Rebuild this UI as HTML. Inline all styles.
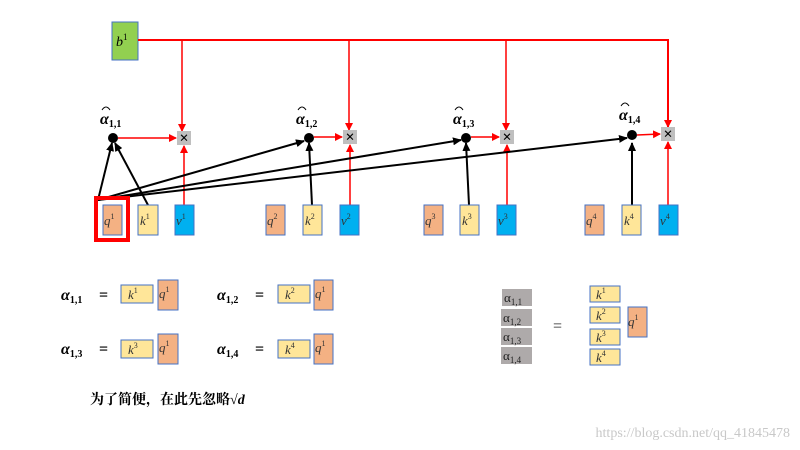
<!DOCTYPE html>
<html><head><meta charset="utf-8"><style>
html,body{margin:0;padding:0;background:#fff;width:800px;height:450px;overflow:hidden}
text{font-family:"Liberation Serif","Noto Serif CJK SC",serif}
.i{font-style:italic}
</style></head><body>
<svg width="800" height="450" viewBox="0 0 800 450" xmlns="http://www.w3.org/2000/svg">
<defs>
<marker id="ar" markerWidth="8" markerHeight="8" refX="7" refY="4" orient="auto" markerUnits="userSpaceOnUse"><path d="M0,0 L8,4 L0,8 z" fill="red"/></marker>
<marker id="ab" markerWidth="10" markerHeight="10" refX="8" refY="5" orient="auto" markerUnits="userSpaceOnUse"><path d="M0,1 L9,5 L0,9 z" fill="#000"/></marker>
</defs>
<!-- b1 -->
<rect x="112" y="22" width="26" height="38" fill="#92d050" stroke="#4472c4"/>
<text x="116" y="46" font-size="14" class="i">b<tspan font-size="9" dy="-6" font-style="normal">1</tspan></text>
<polyline points="138,40 668,40 668,127" fill="none" stroke="red" stroke-width="2" marker-end="url(#ar)"/>
<g stroke="red" stroke-width="1.5" fill="none">
<line x1="182" y1="40" x2="182" y2="131" marker-end="url(#ar)"/>
<line x1="349" y1="40" x2="349" y2="130" marker-end="url(#ar)"/>
<line x1="506" y1="40" x2="506" y2="130" marker-end="url(#ar)"/>
<!-- v to cross -->
<line x1="184" y1="205" x2="184" y2="146" marker-end="url(#ar)"/>
<line x1="350" y1="205" x2="350" y2="145" marker-end="url(#ar)"/>
<line x1="507" y1="205" x2="507" y2="145" marker-end="url(#ar)"/>
<line x1="668" y1="205" x2="668" y2="142" marker-end="url(#ar)"/>
<!-- dot to cross -->
<line x1="118" y1="138" x2="176" y2="138" marker-end="url(#ar)"/>
<line x1="314" y1="137" x2="342" y2="137" marker-end="url(#ar)"/>
<line x1="471" y1="137" x2="499" y2="137" marker-end="url(#ar)"/>
<line x1="637" y1="135" x2="660" y2="134" marker-end="url(#ar)"/>
</g>
<!-- black lines -->
<g stroke="#000" stroke-width="2" fill="none">
<line x1="98" y1="200" x2="112" y2="143" marker-end="url(#ab)"/>
<line x1="148" y1="205" x2="115" y2="143" marker-end="url(#ab)"/>
<line x1="98" y1="200" x2="304" y2="141" marker-end="url(#ab)"/>
<line x1="98" y1="200" x2="461" y2="140" marker-end="url(#ab)"/>
<line x1="98" y1="200" x2="627" y2="138" marker-end="url(#ab)"/>
<line x1="312" y1="205" x2="309" y2="143" marker-end="url(#ab)"/>
<line x1="469" y1="205" x2="466" y2="143" marker-end="url(#ab)"/>
<line x1="632" y1="205" x2="632" y2="143" marker-end="url(#ab)"/>
</g>
<g fill="#000">
<circle cx="113" cy="138" r="5"/><circle cx="309" cy="138" r="5"/><circle cx="466" cy="138" r="5"/><circle cx="632" cy="135" r="5"/>
</g>
<!-- crosses -->
<g>
<rect x="177" y="131" width="14" height="14" fill="#bfbfbf"/><text x="184" y="143" font-size="16" font-weight="bold" text-anchor="middle" font-family="Liberation Sans">×</text>
<rect x="343" y="130" width="14" height="14" fill="#bfbfbf"/><text x="350" y="142" font-size="16" font-weight="bold" text-anchor="middle" font-family="Liberation Sans">×</text>
<rect x="500" y="130" width="14" height="14" fill="#bfbfbf"/><text x="507" y="142" font-size="16" font-weight="bold" text-anchor="middle" font-family="Liberation Sans">×</text>
<rect x="661" y="127" width="14" height="14" fill="#bfbfbf"/><text x="668" y="139" font-size="16" font-weight="bold" text-anchor="middle" font-family="Liberation Sans">×</text>
</g>
<!-- alpha hats -->
<g font-weight="bold" class="i">
<text x="100" y="124" font-size="16" class="i">α<tspan font-size="10" dy="3" font-style="normal">1,1</tspan></text>
<text x="296" y="124" font-size="16" class="i">α<tspan font-size="10" dy="3" font-style="normal">1,2</tspan></text>
<text x="453" y="124" font-size="16" class="i">α<tspan font-size="10" dy="3" font-style="normal">1,3</tspan></text>
<text x="619" y="120" font-size="16" class="i">α<tspan font-size="10" dy="3" font-style="normal">1,4</tspan></text>
</g>
<g stroke="#000" fill="none" stroke-width="1">
<path d="M102,110 Q106,104 110,110"/><path d="M298,110 Q302,104 306,110"/><path d="M455,110 Q459,104 463,110"/><path d="M621,106 Q625,100 629,106"/>
</g>
<!-- bottom boxes -->
<rect x="96" y="198" width="32" height="42" fill="none" stroke="red" stroke-width="4"/>
<g stroke="#4472c4" stroke-width="1">
<rect x="103" y="205" width="19" height="30" fill="#f4b183"/>
<rect x="138" y="205" width="20" height="30" fill="#ffe699"/>
<rect x="175" y="205" width="19" height="30" fill="#00b0f0"/>
<rect x="266" y="205" width="19" height="30" fill="#f4b183"/>
<rect x="303" y="205" width="19" height="30" fill="#ffe699"/>
<rect x="340" y="205" width="19" height="30" fill="#00b0f0"/>
<rect x="424" y="205" width="19" height="30" fill="#f4b183"/>
<rect x="460" y="205" width="19" height="30" fill="#ffe699"/>
<rect x="497" y="205" width="19" height="30" fill="#00b0f0"/>
<rect x="585" y="205" width="19" height="30" fill="#f4b183"/>
<rect x="622" y="205" width="19" height="30" fill="#ffe699"/>
<rect x="659" y="205" width="19" height="30" fill="#00b0f0"/>
</g>
<g font-size="13" fill="#333">
<text x="104" y="225" class="i">q<tspan font-size="8" dy="-6" font-style="normal">1</tspan></text>
<text x="140" y="225" class="i">k<tspan font-size="8" dy="-6" font-style="normal">1</tspan></text>
<text x="176" y="225" class="i">v<tspan font-size="8" dy="-6" font-style="normal">1</tspan></text>
<text x="267" y="225" class="i">q<tspan font-size="8" dy="-6" font-style="normal">2</tspan></text>
<text x="305" y="225" class="i">k<tspan font-size="8" dy="-6" font-style="normal">2</tspan></text>
<text x="341" y="225" class="i">v<tspan font-size="8" dy="-6" font-style="normal">2</tspan></text>
<text x="425" y="225" class="i">q<tspan font-size="8" dy="-6" font-style="normal">3</tspan></text>
<text x="462" y="225" class="i">k<tspan font-size="8" dy="-6" font-style="normal">3</tspan></text>
<text x="498" y="225" class="i">v<tspan font-size="8" dy="-6" font-style="normal">3</tspan></text>
<text x="586" y="225" class="i">q<tspan font-size="8" dy="-6" font-style="normal">4</tspan></text>
<text x="624" y="225" class="i">k<tspan font-size="8" dy="-6" font-style="normal">4</tspan></text>
<text x="660" y="225" class="i">v<tspan font-size="8" dy="-6" font-style="normal">4</tspan></text>
</g>
<!-- formulas -->
<g font-size="16" font-weight="bold">
<text x="61" y="300" class="i">α<tspan font-size="10" dy="3" font-style="normal">1,1</tspan></text>
<text x="99" y="300">=</text>
<text x="217" y="300" class="i">α<tspan font-size="10" dy="3" font-style="normal">1,2</tspan></text>
<text x="255" y="300">=</text>
<text x="61" y="354" class="i">α<tspan font-size="10" dy="3" font-style="normal">1,3</tspan></text>
<text x="99" y="354">=</text>
<text x="217" y="354" class="i">α<tspan font-size="10" dy="3" font-style="normal">1,4</tspan></text>
<text x="255" y="354">=</text>
</g>
<g stroke="#4472c4">
<rect x="121" y="285" width="32" height="18" fill="#ffe699"/><rect x="158" y="280" width="20" height="30" fill="#f4b183"/>
<rect x="278" y="285" width="32" height="18" fill="#ffe699"/><rect x="314" y="280" width="19" height="30" fill="#f4b183"/>
<rect x="121" y="340" width="32" height="18" fill="#ffe699"/><rect x="158" y="334" width="20" height="30" fill="#f4b183"/>
<rect x="278" y="340" width="32" height="18" fill="#ffe699"/><rect x="314" y="334" width="19" height="30" fill="#f4b183"/>
</g>
<g font-size="13" fill="#333">
<text x="128" y="299" class="i">k<tspan font-size="8" dy="-6" font-style="normal">1</tspan></text>
<text x="159" y="298" class="i">q<tspan font-size="8" dy="-6" font-style="normal">1</tspan></text>
<text x="285" y="299" class="i">k<tspan font-size="8" dy="-6" font-style="normal">2</tspan></text>
<text x="315" y="298" class="i">q<tspan font-size="8" dy="-6" font-style="normal">1</tspan></text>
<text x="128" y="354" class="i">k<tspan font-size="8" dy="-6" font-style="normal">3</tspan></text>
<text x="159" y="352" class="i">q<tspan font-size="8" dy="-6" font-style="normal">1</tspan></text>
<text x="285" y="354" class="i">k<tspan font-size="8" dy="-6" font-style="normal">4</tspan></text>
<text x="315" y="352" class="i">q<tspan font-size="8" dy="-6" font-style="normal">1</tspan></text>
</g>
<!-- right matrix -->
<g fill="#aeaaaa">
<rect x="502" y="289" width="30" height="17"/><rect x="501" y="309" width="31" height="17"/><rect x="501" y="328" width="31" height="17"/><rect x="501" y="347" width="31" height="17"/>
</g>
<g font-size="13" fill="#222">
<text x="504" y="302">α<tspan font-size="9" dy="3">1,1</tspan></text>
<text x="503" y="322">α<tspan font-size="9" dy="3">1,2</tspan></text>
<text x="503" y="341">α<tspan font-size="9" dy="3">1,3</tspan></text>
<text x="503" y="360">α<tspan font-size="9" dy="3">1,4</tspan></text>
<text x="553" y="331" font-size="16">=</text>
</g>
<g stroke="#4472c4">
<rect x="590" y="286" width="30" height="16" fill="#ffe699"/>
<rect x="590" y="307" width="30" height="16" fill="#ffe699"/>
<rect x="590" y="329" width="30" height="16" fill="#ffe699"/>
<rect x="590" y="349" width="30" height="16" fill="#ffe699"/>
<rect x="628" y="307" width="19" height="30" fill="#f4b183"/>
</g>
<g font-size="13" fill="#333">
<text x="596" y="299" class="i">k<tspan font-size="8" dy="-6" font-style="normal">1</tspan></text>
<text x="596" y="320" class="i">k<tspan font-size="8" dy="-6" font-style="normal">2</tspan></text>
<text x="596" y="342" class="i">k<tspan font-size="8" dy="-6" font-style="normal">3</tspan></text>
<text x="596" y="362" class="i">k<tspan font-size="8" dy="-6" font-style="normal">4</tspan></text>
<text x="628" y="326" class="i">q<tspan font-size="8" dy="-6" font-style="normal">1</tspan></text>
</g>
<text x="90" y="404" font-size="14" font-weight="bold" font-family="Liberation Sans, Noto Sans CJK SC, sans-serif">为了简便，在此先忽略<tspan font-family="Liberation Serif, serif">√</tspan><tspan class="i" font-family="Liberation Serif, serif">d</tspan></text>
<text x="790" y="437" font-size="14" fill="#c8c8c8" text-anchor="end" font-family="Liberation Sans, sans-serif">https://blog.csdn.net/qq_41845478</text>
</svg>
</body></html>
